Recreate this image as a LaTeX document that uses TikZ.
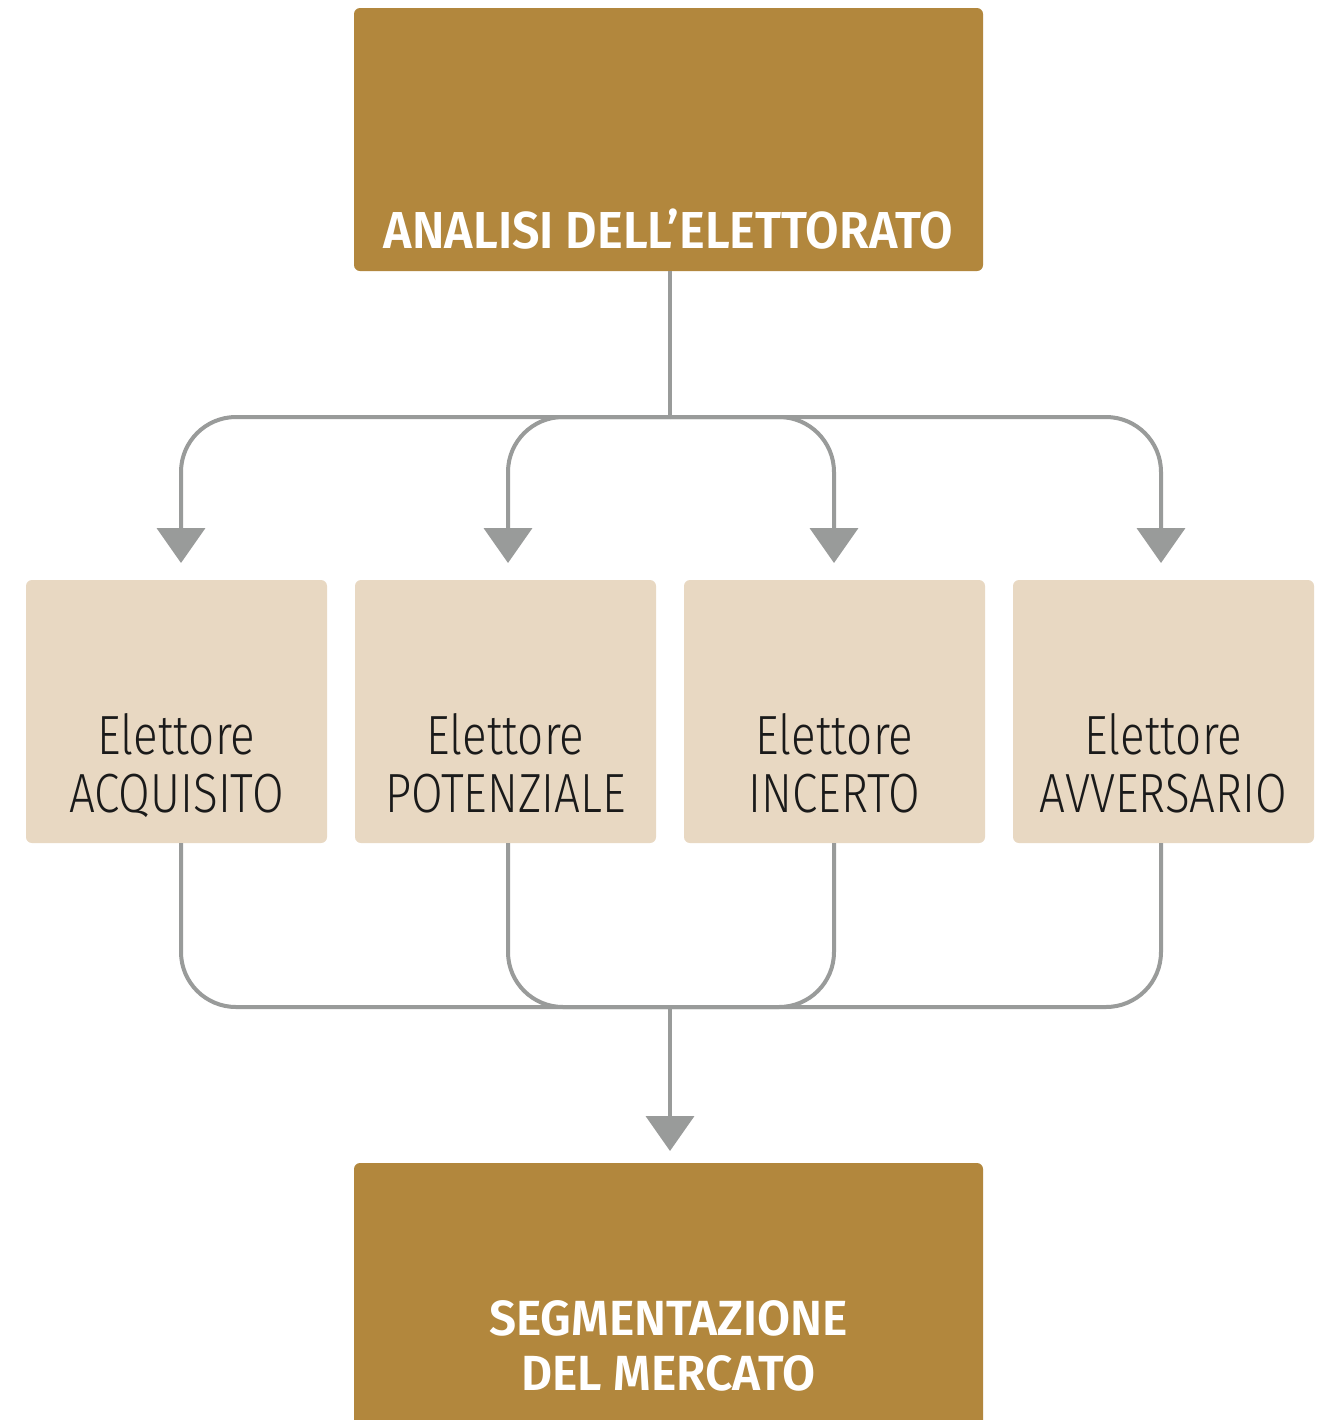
\documentclass[tikz,border=0pt]{standalone}
\usepackage{fontspec}
\usetikzlibrary{arrows.meta}
\newfontfamily\lightf[FakeStretch=0.83]{Fira Sans Light}
\newfontfamily\boldf[FakeStretch=0.935]{Fira Sans SemiBold}
\newfontfamily\boldfb[FakeStretch=0.97]{Fira Sans SemiBold}
\definecolor{gold}{HTML}{B2873D}
\definecolor{beige}{HTML}{E8D8C2}
\definecolor{conncol}{HTML}{999B9A}
\definecolor{txtdark}{HTML}{1A1A1A}
\tikzset{
  goldbox/.style={fill=gold, draw=none, rounded corners=3pt, minimum width=314.5pt, inner sep=0pt},
  segbox/.style={fill=beige, draw=none, rounded corners=3pt, minimum width=150.5pt, minimum height=131.5pt, inner sep=0pt},
  midtxt/.style={anchor=base, inner sep=0pt, text=txtdark, font=\lightf\fontsize{27.6pt}{29pt}\selectfont},
  boldtxt/.style={anchor=base, inner sep=0pt, text=white, font=\boldf\fontsize{26pt}{28pt}\selectfont},
  boldtxtb/.style={anchor=base, inner sep=0pt, text=white, font=\boldfb\fontsize{24.7pt}{27pt}\selectfont},
  conn/.style={draw=conncol, line width=2pt, rounded corners=27.5pt},
  arr/.style={conn, -{Triangle[width=24pt,length=17.5pt]}},
}
\begin{document}
\begin{tikzpicture}[x=0.5pt, y=-0.5pt]
\clip (0,0) rectangle (1332,1420);
\fill[white] (0,0) rectangle (1332,1420);
% top box
\node[goldbox, minimum height=131.5pt] (top) at (668.5,139.5) {};
\node[boldtxt] (toptxt) at (668.5,248) {ANALISI DELL’ELETTORATO};
% middle boxes
\node[segbox] (a) at (176.5,711.5) {};
\node[segbox] (b) at (505.5,711.5) {};
\node[segbox] (c) at (834.5,711.5) {};
\node[segbox] (d) at (1163.5,711.5) {};
\node[midtxt] (a1) at (176.5,754) {Elettore};
\node[midtxt] (a2) at (176.5,812) {ACQUISITO};
\node[midtxt] (b1) at (505.5,754) {Elettore};
\node[midtxt] (b2) at (505.5,812) {POTENZIALE};
\node[midtxt] (c1) at (834.5,754) {Elettore};
\node[midtxt] (c2) at (834.5,812) {INCERTO};
\node[midtxt] (d1) at (1163.5,754) {Elettore};
\node[midtxt] (d2) at (1163.5,812) {AVVERSARIO};
% bottom box
\node[goldbox, minimum height=138.5pt] (bot) at (668.5,1301.5) {};
\node[boldtxtb] (bot1) at (668.5,1335) {SEGMENTAZIONE};
\node[boldtxtb] (bot2) at (668.5,1390) {DEL MERCATO};
% coordinates
\coordinate (jt) at (670,417);
\coordinate (jb) at (670,1007);
\coordinate (ta) at (181,563);
\coordinate (tb) at (508,563);
\coordinate (tc) at (834,563);
\coordinate (td) at (1161,563);
\coordinate (sa) at (181,843);
\coordinate (sb) at (508,843);
\coordinate (sc) at (834,843);
\coordinate (sd) at (1161,843);
\coordinate (tbot) at (670,1151);
% connectors top
\draw[conn] (670,271) -- (jt);
\draw[arr] (jt) -| (ta);
\draw[arr] (jt) -| (tb);
\draw[arr] (jt) -| (tc);
\draw[arr] (jt) -| (td);
% connectors bottom
\draw[conn] (sa) |- (jb);
\draw[conn] (sb) |- (jb);
\draw[conn] (sc) |- (jb);
\draw[conn] (sd) |- (jb);
\draw[arr] (jb) -- (tbot);
\end{tikzpicture}
\end{document}
